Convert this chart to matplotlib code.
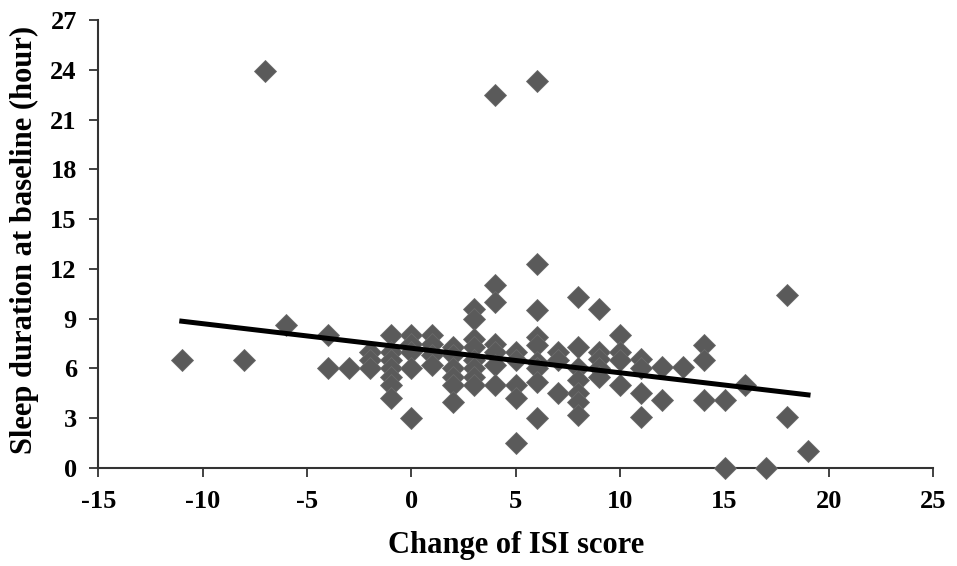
import matplotlib.pyplot as plt
import numpy as np

# change of ISI score (x) and sleep duration at baseline (y)
isi_change = [-11, -8, -7, -6, -4, -4, -3,
              -2, -2, -2,
              -1, -1, -1, -1, -1, -1, -1,
              0, 0, 0, 0, 0,
              1, 1, 1, 1,
              2, 2, 2, 2, 2, 2,
              3, 3, 3, 3, 3, 3, 3, 3,
              4, 4, 4, 4, 4, 4, 4,
              5, 5, 5, 5, 5,
              6, 6, 6, 6, 6, 6, 6, 6, 6,
              7, 7, 7,
              8, 8, 8, 8, 8, 8, 8,
              9, 9, 9, 9, 9,
              10, 10, 10, 10,
              11, 11, 11, 11,
              12, 12, 13,
              14, 14, 14,
              15, 15, 16, 17, 18, 18, 19]
sleep_hours = [6.5, 6.5, 23.9, 8.6, 8.0, 6.0, 6.0,
               7.0, 6.5, 6.0,
               8.0, 7.0, 6.5, 6.0, 5.5, 5.0, 4.2,
               8.0, 7.5, 7.0, 6.0, 3.0,
               8.0, 7.5, 6.8, 6.2,
               7.3, 6.8, 6.0, 5.5, 5.0, 4.0,
               9.6, 9.0, 7.8, 7.3, 6.5, 6.0, 5.5, 5.0,
               22.5, 11.0, 10.0, 7.5, 7.0, 6.2, 5.0,
               7.0, 6.5, 5.0, 4.2, 1.5,
               23.3, 12.3, 9.5, 7.9, 7.4, 6.4, 6.0, 5.2, 3.0,
               7.0, 6.5, 4.5,
               10.3, 7.3, 6.0, 5.3, 4.5, 4.0, 3.2,
               9.6, 7.0, 6.6, 6.0, 5.5,
               8.0, 7.0, 6.5, 5.0,
               6.6, 6.0, 4.5, 3.1,
               6.1, 4.1, 6.1,
               7.4, 6.5, 4.1,
               4.1, 0.0, 5.0, 0.0, 10.4, 3.1, 1.0]

# linear trend line shown in the figure
trend_x = [-11, 19]
trend_intercept = 7.22
trend_slope = -0.148

x_ticks = [-15, -10, -5, 0, 5, 10, 15, 20, 25]
y_ticks = [0, 3, 6, 9, 12, 15, 18, 21, 24, 27]

plt.rcParams['font.family'] = ['Liberation Serif', 'DejaVu Serif']
plt.rcParams['font.weight'] = 'bold'
plt.rcParams['axes.unicode_minus'] = False

fig = plt.figure(figsize=(9.57, 5.66), dpi=100)
ax = fig.add_axes([0.1027, 0.1731, 0.8725, 0.7916])

ax.plot(isi_change, sleep_hours, linestyle='none', marker='D', markersize=11,
        markerfacecolor='#5a5a5a', markeredgecolor='#6a6a6a', markeredgewidth=0.6,
        clip_on=False, zorder=3)

tx = np.array(trend_x, dtype=float)
ax.plot(tx, trend_intercept + trend_slope * tx, color='black', linewidth=3.6, zorder=4)

ax.set_xlim(-15, 25)
ax.set_ylim(0, 27)
ax.set_xticks(x_ticks)
ax.set_yticks(y_ticks)
ax.tick_params(direction='out', length=6.5, width=1.3, colors='#333333',
               labelsize=19, labelcolor='black', pad=9)
for lbl in ax.get_xticklabels() + ax.get_yticklabels():
    lbl.set_fontweight('bold')

for side in ['top', 'right']:
    ax.spines[side].set_visible(False)
for side in ['left', 'bottom']:
    ax.spines[side].set_linewidth(1.5)
    ax.spines[side].set_color('#333333')

ax.set_xlabel('Change of ISI score', fontsize=22, fontweight='bold', va='center')
ax.set_ylabel('Sleep duration at baseline (hour)', fontsize=22, fontweight='bold', va='center')
ax.xaxis.set_label_coords(0.5, -0.172)
ax.yaxis.set_label_coords(-0.088, 0.51)

fig.savefig('out.png', dpi=100)
